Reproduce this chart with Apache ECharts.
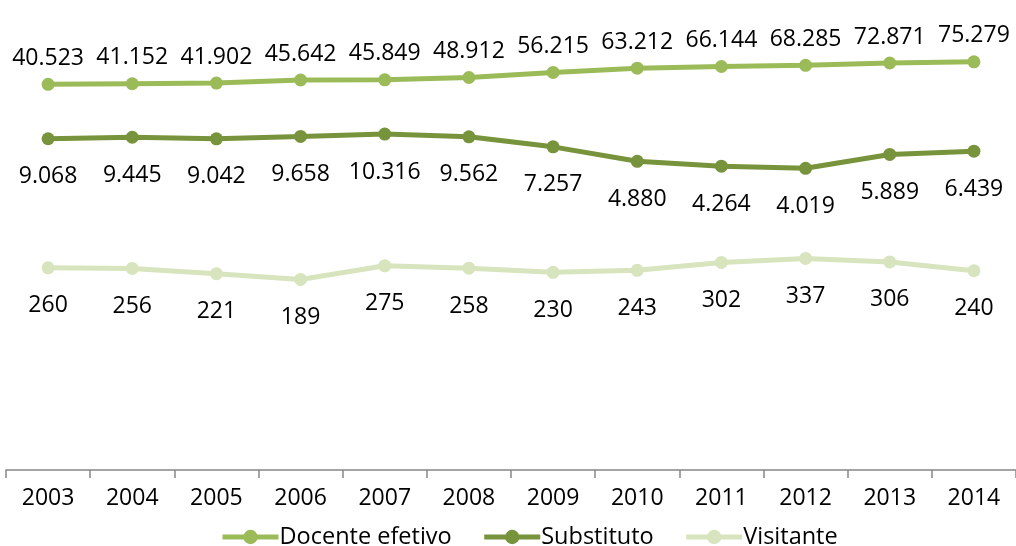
<!DOCTYPE html>
<html>
<head>
<meta charset="utf-8">
<script src="https://cdn.jsdelivr.net/npm/echarts@6/dist/echarts.min.js"></script>
<style>html,body{margin:0;padding:0;background:#fff;}#c{width:1016px;height:546px;}</style>
</head>
<body>
<div id="c"></div>
<script>
const categories = ['2003','2004','2005','2006','2007','2008','2009','2010','2011','2012','2013','2014'];
const docenteEfetivo = [40523, 41152, 41902, 45642, 45849, 48912, 56215, 63212, 66144, 68285, 72871, 75279];
const substituto = [9068, 9445, 9042, 9658, 10316, 9562, 7257, 4880, 4264, 4019, 5889, 6439];
const visitante = [260, 256, 221, 189, 275, 258, 230, 243, 302, 337, 306, 240];
const seriesNames = ['Docente efetivo', 'Substituto', 'Visitante'];
const colors = ['#9BBB59', '#77933C', '#D7E4BD'];

const FONT = '"Open Sans", "Noto Sans", sans-serif';
const fmt = v => v.toLocaleString('de-DE');

function mk(name, data, color, pos) {
  return {
    name: name, type: 'line', data: data,
    symbol: 'circle', symbolSize: 13,
    lineStyle: { color: color, width: 5 },
    itemStyle: { color: color },
    label: {
      show: true, position: pos, distance: pos === 'top' ? 8 : 20,
      formatter: p => fmt(p.value),
      color: '#000', fontFamily: FONT, fontSize: 23
    },
    emphasis: { disabled: true },
    animation: false
  };
}

const chart = echarts.init(document.getElementById('c'));
chart.setOption({
  animation: false,
  grid: { left: 6, right: -2, top: 51.5, bottom: 76, containLabel: false },
  legend: {
    bottom: -8, left: 215,
    itemWidth: 56, itemHeight: 18, itemGap: 30,
    lineStyle: { width: 5 },
    textStyle: { fontFamily: FONT, fontSize: 23.5, color: '#000', padding: [0, 0, 0, -4] },
    data: seriesNames
  },
  xAxis: {
    type: 'category', data: categories, boundaryGap: true,
    axisLine: { lineStyle: { color: '#868686', width: 1.5 } },
    axisTick: { show: true, length: 8, lineStyle: { color: '#868686', width: 1.5 } },
    axisLabel: { color: '#000', fontFamily: FONT, fontSize: 23, margin: 17 }
  },
  yAxis: {
    type: 'log', logBase: 10, min: 1, max: 100000,
    show: false, splitLine: { show: false }
  },
  series: [
    mk(seriesNames[0], docenteEfetivo, colors[0], 'top'),
    mk(seriesNames[1], substituto, colors[1], 'bottom'),
    mk(seriesNames[2], visitante, colors[2], 'bottom')
  ]
});
</script>
</body>
</html>
